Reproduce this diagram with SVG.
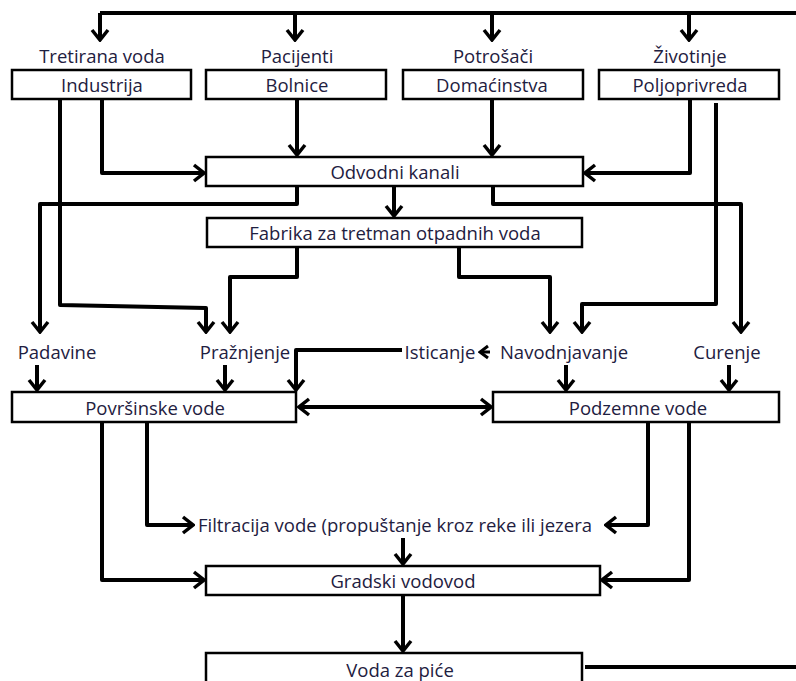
<svg xmlns="http://www.w3.org/2000/svg" width="796" height="681" viewBox="0 0 796 681">
<style>
.box{fill:#fff;stroke:#000;stroke-width:2.5}
text{font-family:"Open Sans","Liberation Sans",sans-serif;font-size:18.5px;fill:#1e2040;text-anchor:middle}
.c{fill:none;stroke:#000;stroke-width:4;stroke-linejoin:round}
.a{marker-end:url(#ah)}
</style>
<defs>
<marker id="ah" viewBox="-14 -10 16 20" refX="0" refY="0" markerWidth="16" markerHeight="20" markerUnits="userSpaceOnUse" orient="auto-start-reverse">
<path d="M-10,-8 L0,0 L-10,8" fill="none" stroke="#000" stroke-width="3.5"/>
</marker>
<marker id="sm" viewBox="-10 -8 12 16" refX="0" refY="0" markerWidth="12" markerHeight="16" markerUnits="userSpaceOnUse" orient="auto">
<path d="M-8,-6 L0,0 L-8,6" fill="none" stroke="#000" stroke-width="3"/>
</marker>
</defs>
<g id="connectors">
<path class="c" d="M100,13 H796"/>
<path class="c a" d="M100,13 V40"/>
<path class="c a" d="M295,13 V40"/>
<path class="c a" d="M492,13 V40"/>
<path class="c a" d="M689,13 V40"/>
<path class="c a" d="M102,99 V173 H204"/>
<path class="c a" d="M60,99 V305 L206,308 V332"/>
<path class="c a" d="M297,100 V155"/>
<path class="c a" d="M492,99 V155"/>
<path class="c a" d="M690,99 V173 H585"/>
<path class="c a" d="M716,103 V304 H582 V332"/>
<path class="c a" d="M297,186 V204 H40 V332"/>
<path class="c a" d="M394,186 V216"/>
<path class="c a" d="M493,186 V204 H741 V332"/>
<path class="c a" d="M297,247 V277 H230 V332"/>
<path class="c a" d="M459,247 V277 H550 V332"/>
<path class="c" style="stroke-width:3;marker-end:url(#sm)" d="M490,352 H480"/>
<path class="c a" d="M402,350 H296 V390"/>
<path class="c a" d="M37,365 V390"/>
<path class="c a" d="M225,365 V390"/>
<path class="c a" d="M566,365 V390"/>
<path class="c a" d="M729,365 V390"/>
<path class="c a" style="marker-start:url(#ah)" d="M299,407 H491"/>
<path class="c a" d="M102,422 V580 H204"/>
<path class="c a" d="M147,422 V525 H193"/>
<path class="c a" d="M648,422 V525 H606"/>
<path class="c a" d="M689,422 V580 H602"/>
<path class="c a" d="M403,538 V564"/>
<path class="c a" d="M403,595 V651"/>
<path class="c" d="M585,667 H796"/>
</g>
<g id="tretirana"><text x="102" y="63">Tretirana voda</text></g>
<g id="pacijenti"><text x="297" y="63">Pacijenti</text></g>
<g id="potrosaci"><text x="493" y="63">Potrošači</text></g>
<g id="zivotinje"><text x="690" y="63">Životinje</text></g>
<g id="industrija"><rect class="box" x="12" y="70" width="179" height="29"/><text x="102" y="92">Industrija</text></g>
<g id="bolnice"><rect class="box" x="206" y="70" width="180" height="29"/><text x="297" y="92">Bolnice</text></g>
<g id="domacinstva"><rect class="box" x="403" y="70" width="180" height="29"/><text x="492" y="92">Domaćinstva</text></g>
<g id="poljoprivreda"><rect class="box" x="599" y="70" width="180" height="29"/><text x="690" y="92">Poljoprivreda</text></g>
<g id="odvodni"><rect class="box" x="206" y="157" width="377" height="29"/><text x="395" y="179">Odvodni kanali</text></g>
<g id="fabrika"><rect class="box" x="207" y="218" width="375" height="29"/><text x="395" y="240">Fabrika za tretman otpadnih voda</text></g>
<g id="padavine"><text x="57" y="359">Padavine</text></g>
<g id="praznjenje"><text x="245" y="359">Pražnjenje</text></g>
<g id="isticanje"><text x="440" y="359">Isticanje</text></g>
<g id="navodnjavanje"><text x="564" y="359">Navodnjavanje</text></g>
<g id="curenje"><text x="727" y="359">Curenje</text></g>
<g id="povrsinske"><rect class="box" x="12" y="392" width="284" height="30"/><text x="155" y="415">Površinske vode</text></g>
<g id="podzemne"><rect class="box" x="493" y="392" width="286" height="30"/><text x="638" y="415">Podzemne vode</text></g>
<g id="filtracija"><text x="395" y="532">Filtracija vode (propuštanje kroz reke ili jezera</text></g>
<g id="gradski"><rect class="box" x="206" y="566" width="394" height="29"/><text x="403" y="588">Gradski vodovod</text></g>
<g id="voda"><rect class="box" x="206" y="653" width="376" height="40"/><text x="400" y="677">Voda za piće</text></g>
</svg>
